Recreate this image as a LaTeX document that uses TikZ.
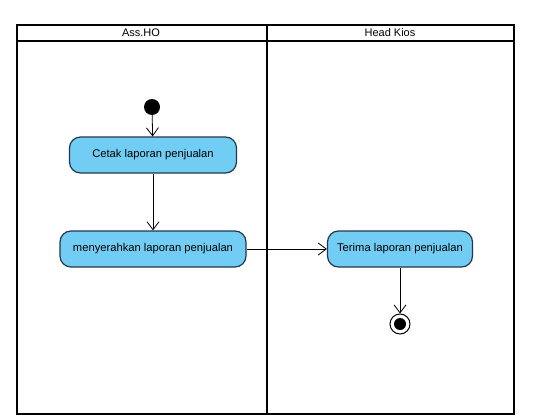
\documentclass[tikz,border=0pt]{standalone}
\usepackage{fontspec}
\setmainfont{Liberation Sans}
\usetikzlibrary{arrows.meta}
\definecolor{actfill}{HTML}{72CDF4}
\definecolor{actline}{HTML}{23384A}
\begin{document}
\begin{tikzpicture}[x=1pt,y=-1pt,
  lane/.style={draw=black,line width=1.8pt},
  action/.style={draw=actline,fill=actfill,line width=1.2pt,rounded corners=11pt,
    minimum height=36pt,inner xsep=4pt,font=\fontsize{11.2}{13}\selectfont},
  flow/.style={draw=black,line width=0.8pt,-{Straight Barb[length=8pt,width=12pt,line width=0.8pt]}},
  header/.style={font=\fontsize{11}{13}\selectfont}]
\useasboundingbox (0,0) rectangle (543,417);
% swimlane frame
\draw[lane] (17,25) rectangle (514,414);
\draw[lane] (17,41) -- (514,41);
\draw[lane] (267,25) -- (267,414);
\node[header] (hAss) at (141,33) {Ass.HO};
\node[header] (hKios) at (390,33) {Head Kios};
% nodes
\node[circle,fill=black,minimum size=16pt,inner sep=0] (start) at (152,107) {};
\node[action,minimum width=167pt] (cetak) at (153,155) {Cetak laporan penjualan};
\node[action,minimum width=186pt] (serah) at (153,249) {menyerahkan laporan penjualan};
\node[action,minimum width=145pt] (terima) at (400,249) {Terima laporan penjualan};
\node[circle,draw=black,line width=1pt,minimum size=20pt,inner sep=0,fill=white] (end) at (400,324) {};
\node[circle,fill=black,minimum size=12pt,inner sep=0] (endin) at (end) {};
% control flows
\draw[flow] (start) -- (cetak);
\draw[flow] (cetak) -- (serah);
\draw[flow] (serah) -- (terima);
\draw[flow] (terima) -- (end);
\end{tikzpicture}
\end{document}
